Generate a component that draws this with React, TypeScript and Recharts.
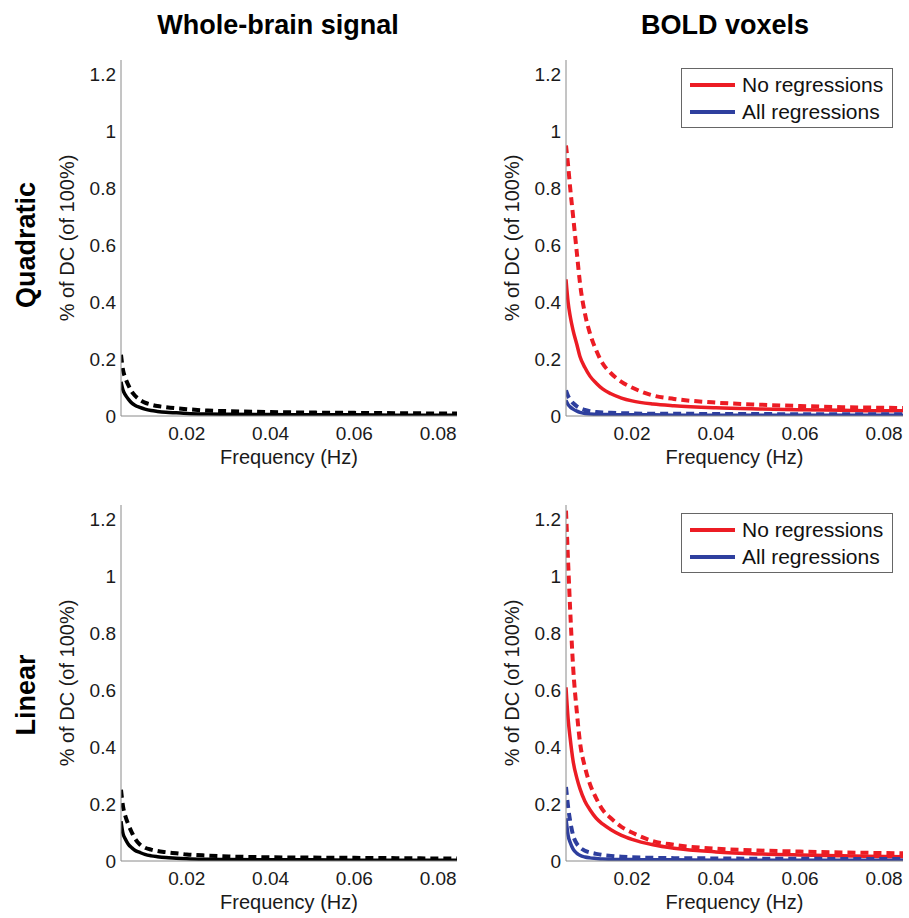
import { LineChart, Line, XAxis, YAxis, Legend } from "recharts";

const FONT = "'Liberation Sans', Arial, Helvetica, sans-serif";
const RED = "#ec1c24";
const BLUE = "#2e3f9e";

// frequency bins (Hz)
const freqs = [
  0.0043, 0.0048, 0.0053, 0.006, 0.0069, 0.0076, 0.0088, 0.01, 0.0115, 0.013, 0.015,
  0.0175, 0.02, 0.025, 0.03, 0.04, 0.05, 0.06, 0.07, 0.08, 0.0845,
];

// Quadratic detrending, whole-brain signal
const quadWholeSolid = [0.12, 0.09, 0.075, 0.06, 0.045, 0.038, 0.03, 0.024, 0.019, 0.016, 0.013, 0.011, 0.009, 0.007, 0.006, 0.005, 0.004, 0.004, 0.003, 0.003, 0.003];
const quadWholeDashed = [0.215, 0.16, 0.135, 0.11, 0.085, 0.072, 0.057, 0.047, 0.04, 0.035, 0.031, 0.027, 0.024, 0.019, 0.017, 0.014, 0.012, 0.011, 0.01, 0.009, 0.009];

// Quadratic detrending, BOLD voxels
const quadNoRegSolid = [0.48, 0.4, 0.35, 0.3, 0.25, 0.21, 0.17, 0.14, 0.115, 0.095, 0.078, 0.063, 0.053, 0.042, 0.036, 0.029, 0.025, 0.022, 0.02, 0.018, 0.018];
const quadNoRegDashed = [0.95, 0.88, 0.8, 0.7, 0.57, 0.47, 0.36, 0.29, 0.23, 0.185, 0.15, 0.12, 0.1, 0.072, 0.06, 0.047, 0.04, 0.035, 0.031, 0.029, 0.028];
const quadAllRegSolid = [0.055, 0.04, 0.032, 0.024, 0.017, 0.013, 0.009, 0.007, 0.006, 0.005, 0.005, 0.004, 0.004, 0.004, 0.003, 0.003, 0.003, 0.003, 0.003, 0.003, 0.003];
const quadAllRegDashed = [0.09, 0.07, 0.058, 0.045, 0.034, 0.028, 0.021, 0.017, 0.014, 0.012, 0.011, 0.01, 0.009, 0.008, 0.008, 0.007, 0.007, 0.006, 0.006, 0.006, 0.006];

// Linear detrending, whole-brain signal
const linWholeSolid = [0.14, 0.095, 0.078, 0.06, 0.046, 0.038, 0.03, 0.023, 0.018, 0.015, 0.012, 0.01, 0.008, 0.006, 0.005, 0.004, 0.004, 0.003, 0.003, 0.003, 0.003];
const linWholeDashed = [0.25, 0.19, 0.16, 0.13, 0.1, 0.08, 0.058, 0.047, 0.04, 0.035, 0.031, 0.027, 0.023, 0.019, 0.016, 0.013, 0.012, 0.011, 0.01, 0.009, 0.009];

// Linear detrending, BOLD voxels
const linNoRegSolid = [0.61, 0.5, 0.43, 0.35, 0.29, 0.255, 0.21, 0.18, 0.15, 0.13, 0.11, 0.09, 0.076, 0.057, 0.045, 0.032, 0.025, 0.021, 0.018, 0.016, 0.015];
const linNoRegDashed = [1.23, 1.05, 0.88, 0.68, 0.52, 0.42, 0.33, 0.27, 0.22, 0.18, 0.15, 0.12, 0.1, 0.07, 0.057, 0.043, 0.037, 0.033, 0.03, 0.028, 0.027];
const linAllRegSolid = [0.15, 0.09, 0.065, 0.042, 0.027, 0.02, 0.014, 0.011, 0.009, 0.007, 0.006, 0.005, 0.005, 0.004, 0.004, 0.003, 0.003, 0.003, 0.003, 0.003, 0.003];
const linAllRegDashed = [0.26, 0.19, 0.14, 0.09, 0.06, 0.048, 0.036, 0.03, 0.025, 0.021, 0.018, 0.015, 0.013, 0.011, 0.01, 0.009, 0.008, 0.008, 0.007, 0.007, 0.007];

const yTicks = [0, 0.2, 0.4, 0.6, 0.8, 1, 1.2];
const xTicks = [0.02, 0.04, 0.06, 0.08];
const legendItems = [
  { label: "No regressions", color: RED },
  { label: "All regressions", color: BLUE },
];

type SeriesDef = { key: string; values: number[]; color: string; dashed: boolean };

function buildRows(series: SeriesDef[]) {
  return freqs.map((f, i) => {
    const row: Record<string, number> = { f };
    for (const s of series) row[s.key] = s.values[i];
    return row;
  });
}

function BoxLegend() {
  return (
    <div
      style={{
        border: "1.5px solid #666",
        background: "#fff",
        width: 212,
        padding: "2px 0",
        fontFamily: FONT,
        fontSize: 21,
        color: "#111",
        boxSizing: "border-box",
      }}
    >
      {legendItems.map((it) => (
        <div key={it.label} style={{ display: "flex", alignItems: "center", height: 27 }}>
          <div style={{ width: 45, height: 4, background: it.color, marginLeft: 8, marginRight: 7 }} />
          <span>{it.label}</span>
        </div>
      ))}
    </div>
  );
}

type PanelProps = { left: number; top: number; width: number; right: number; series: SeriesDef[]; legend?: boolean };

function Panel({ left, top, width, right, series, legend }: PanelProps) {
  const rows = buildRows(series);
  return (
    <div style={{ position: "absolute", left, top }}>
      <LineChart width={width} height={470} data={rows} margin={{ top: 60, right, left: 61, bottom: 4 }}>
        <XAxis
          dataKey="f"
          type="number"
          domain={[0.0043, 0.0845]}
          ticks={xTicks}
          allowDataOverflow
          height={50}
          tickSize={0}
          tickMargin={11}
          stroke="#8a8a8a"
          tick={{ fontSize: 19, fill: "#1a1a1a", fontFamily: FONT }}
          label={{ value: "Frequency (Hz)", position: "insideBottom", offset: 2, style: { fontSize: 20, fill: "#1a1a1a", fontFamily: FONT } }}
        />
        <YAxis
          type="number"
          domain={[0, 1.25]}
          ticks={yTicks}
          allowDataOverflow
          width={60}
          tickSize={0}
          tickMargin={5}
          stroke="#8a8a8a"
          tickFormatter={(v: number) => String(v)}
          tick={{ fontSize: 19, fill: "#1a1a1a", fontFamily: FONT }}
          label={{ value: "% of DC (of 100%)", angle: -90, position: "insideLeft", offset: 6, style: { fontSize: 20, fill: "#1a1a1a", fontFamily: FONT, textAnchor: "middle" } }}
        />
        {legend && (
          <Legend
            layout="horizontal"
            verticalAlign="middle"
            align="center"
            wrapperStyle={{ position: "absolute", top: 68, left: 236, width: 215, height: 58 }}
            content={() => <BoxLegend />}
          />
        )}
        {series.map((s) => (
          <Line
            key={s.key}
            dataKey={s.key}
            type="monotone"
            stroke={s.color}
            strokeWidth={s.dashed ? 4 : 3.5}
            strokeDasharray={s.dashed ? "8 5" : undefined}
            dot={false}
            isAnimationActive={false}
          />
        ))}
      </LineChart>
    </div>
  );
}

const titleStyle = { position: "absolute" as const, fontFamily: FONT, fontWeight: 700, fontSize: 27, color: "#000", whiteSpace: "nowrap" as const };

export default function App() {
  return (
    <div style={{ position: "absolute", left: 0, top: 0, width: 909, height: 918, background: "#fff", overflow: "hidden" }}>
      <div style={{ ...titleStyle, left: 278, top: 25, transform: "translate(-50%, -50%)" }}>Whole-brain signal</div>
      <div style={{ ...titleStyle, left: 725, top: 25, transform: "translate(-50%, -50%)" }}>BOLD voxels</div>
      <div style={{ ...titleStyle, left: 26, top: 245, transform: "translate(-50%, -50%) rotate(-90deg)" }}>Quadratic</div>
      <div style={{ ...titleStyle, left: 26, top: 695, transform: "translate(-50%, -50%) rotate(-90deg)" }}>Linear</div>

      <Panel
        left={0}
        top={0}
        width={480}
        right={23}
        series={[
          { key: "solid", values: quadWholeSolid, color: "#000", dashed: false },
          { key: "dashed", values: quadWholeDashed, color: "#000", dashed: true },
        ]}
      />
      <Panel
        left={445}
        top={0}
        width={464}
        right={6}
        legend
        series={[
          { key: "noSolid", values: quadNoRegSolid, color: RED, dashed: false },
          { key: "noDashed", values: quadNoRegDashed, color: RED, dashed: true },
          { key: "allSolid", values: quadAllRegSolid, color: BLUE, dashed: false },
          { key: "allDashed", values: quadAllRegDashed, color: BLUE, dashed: true },
        ]}
      />
      <Panel
        left={0}
        top={445}
        width={480}
        right={23}
        series={[
          { key: "solid", values: linWholeSolid, color: "#000", dashed: false },
          { key: "dashed", values: linWholeDashed, color: "#000", dashed: true },
        ]}
      />
      <Panel
        left={445}
        top={445}
        width={464}
        right={6}
        legend
        series={[
          { key: "noSolid", values: linNoRegSolid, color: RED, dashed: false },
          { key: "noDashed", values: linNoRegDashed, color: RED, dashed: true },
          { key: "allSolid", values: linAllRegSolid, color: BLUE, dashed: false },
          { key: "allDashed", values: linAllRegDashed, color: BLUE, dashed: true },
        ]}
      />
    </div>
  );
}
